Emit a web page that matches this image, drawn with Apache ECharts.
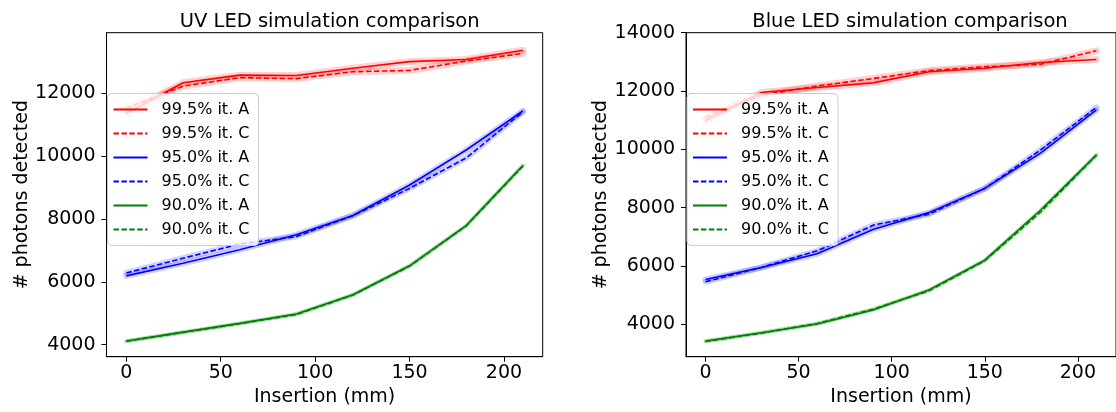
<!DOCTYPE html>
<html>
<head>
<meta charset="utf-8">
<script src="https://cdn.jsdelivr.net/npm/echarts@6/dist/echarts.min.js"></script>
<style>
html,body{margin:0;padding:0;background:#fff;}
#chart{width:1116px;height:412px;}
</style>
</head>
<body>
<div id="chart"></div>
<script>
// ---- data ----
const insertion = [0, 30, 60, 90, 120, 150, 180, 210];
const xTicks = [0, 50, 100, 150, 200];
const uvTicks = [4000, 6000, 8000, 10000, 12000];
const blueTicks = [4000, 6000, 8000, 10000, 12000, 14000];
const seriesNames = ['99.5% it. A', '99.5% it. C', '95.0% it. A', '95.0% it. C', '90.0% it. A', '90.0% it. C'];

// UV LED
const uvRedA   = [11350, 12330, 12570, 12560, 12790, 13000, 13070, 13360];
const uvRedC   = [11520, 12220, 12490, 12460, 12680, 12720, 13020, 13260];
const uvBlueA  = [6190, 6590, 7020, 7500, 8110, 9080, 10190, 11430];
const uvBlueC  = [6280, 6750, 7200, 7440, 8100, 8970, 9940, 11400];
const uvGreenA = [4120, 4400, 4680, 4980, 5590, 6510, 7790, 9700];
const uvGreenC = [4110, 4390, 4670, 4960, 5580, 6500, 7780, 9680];

// Blue LED
const blRedA   = [10980, 11950, 12120, 12280, 12660, 12780, 12980, 13080];
const blRedC   = [11100, 11860, 12170, 12430, 12700, 12830, 12920, 13380];
const blBlueA  = [5540, 5950, 6420, 7250, 7830, 8660, 9870, 11350];
const blBlueC  = [5460, 5950, 6520, 7400, 7780, 8660, 9980, 11440];
const blGreenA = [3430, 3710, 4010, 4490, 5180, 6200, 7920, 9810];
const blGreenC = [3410, 3700, 4030, 4520, 5150, 6180, 7850, 9800];

// ---- build ----
const colors = ['#ff0000', '#ff0000', '#0000ff', '#0000ff', '#008000', '#008000'];
const bandW = [7, 7, 6, 6, 4, 4];
const dashed = [false, true, false, true, false, true];
const FONT = 'DejaVu Sans';

function pairs(ys) { return insertion.map((x, i) => [x, ys[i]]); }

function buildSeries(sets, idx) {
  const out = [];
  sets.forEach((ys, k) => {
    out.push({
      type: 'line', name: 'band' + idx + '_' + k, xAxisIndex: idx, yAxisIndex: idx,
      data: pairs(ys), symbol: 'none', silent: true, z: 1,
      lineStyle: { color: colors[k], width: bandW[k], opacity: 0.18, join: 'round', cap: 'round' }
    });
  });
  sets.forEach((ys, k) => {
    out.push({
      type: 'line', name: seriesNames[k], xAxisIndex: idx, yAxisIndex: idx,
      data: pairs(ys), symbol: 'none', z: 2,
      itemStyle: { color: colors[k] },
      lineStyle: { color: colors[k], width: 1.6, type: dashed[k] ? [5.5, 2.4] : 'solid' }
    });
  });
  return out;
}

function plain(v) { return String(v); }

function xAxisCfg(idx) {
  return {
    type: 'value', gridIndex: idx, min: -10.5, max: 220.5,
    name: 'Insertion (mm)', nameLocation: 'middle', nameGap: 29,
    nameTextStyle: { fontFamily: FONT, fontSize: 19, color: '#000' },
    axisLine: { show: true, onZero: false, lineStyle: { color: '#000', width: 1 } },
    axisTick: { show: true, inside: false, length: 5, customValues: xTicks, lineStyle: { color: '#000' } },
    axisLabel: { customValues: xTicks, formatter: plain, margin: 7, fontFamily: FONT, fontSize: 19, color: '#000' },
    splitLine: { show: false }
  };
}
function yAxisCfg(idx, min, max, ticks) {
  return {
    type: 'value', gridIndex: idx, min: min, max: max,
    name: '# photons detected', nameLocation: 'middle', nameGap: 67, nameRotate: 90,
    nameTextStyle: { fontFamily: FONT, fontSize: 19, color: '#000' },
    axisLine: { show: true, onZero: false, lineStyle: { color: '#000', width: 1 } },
    axisTick: { show: true, inside: false, length: 5, customValues: ticks, lineStyle: { color: '#000' } },
    axisLabel: { customValues: ticks, formatter: plain, margin: 11, fontFamily: FONT, fontSize: 19, color: '#000' },
    splitLine: { show: false }
  };
}
function legendCfg(left) {
  return {
    orient: 'vertical', left: left, top: 93.5,
    data: seriesNames,
    itemWidth: 34, itemHeight: 14, itemGap: 8,
    padding: [8, 9, 8, 5],
    itemStyle: { opacity: 0, borderWidth: 0 },
    backgroundColor: 'rgba(255,255,255,0.8)', borderColor: '#cccccc', borderWidth: 1, borderRadius: 4,
    textStyle: { fontFamily: FONT, fontSize: 16, color: '#000', lineHeight: 14, padding: [0, 0, 0, 9] },
    selectedMode: false
  };
}

const option = {
  animation: false,
  backgroundColor: '#fff',
  title: [
    { text: 'UV LED simulation comparison', left: 324.7, top: 7, textAlign: 'center',
      textStyle: { fontFamily: FONT, fontSize: 19.5, fontWeight: 'normal', color: '#000' } },
    { text: 'Blue LED simulation comparison', left: 905, top: 7, textAlign: 'center',
      textStyle: { fontFamily: FONT, fontSize: 19.5, fontWeight: 'normal', color: '#000' } }
  ],
  grid: [
    { left: 106.5, top: 32.7, width: 436.2, height: 324, show: true, borderColor: '#000', borderWidth: 1, backgroundColor: 'transparent' },
    { left: 686, top: 32.7, width: 438, height: 324, show: true, borderColor: '#000', borderWidth: 1, backgroundColor: 'transparent' }
  ],
  xAxis: [xAxisCfg(0), xAxisCfg(1)],
  yAxis: [yAxisCfg(0, 3620, 13920, uvTicks), yAxisCfg(1, 2890, 14000, blueTicks)],
  legend: [legendCfg(107.5), legendCfg(687)],
  series: [].concat(
    buildSeries([uvRedA, uvRedC, uvBlueA, uvBlueC, uvGreenA, uvGreenC], 0),
    buildSeries([blRedA, blRedC, blBlueA, blBlueC, blGreenA, blGreenC], 1)
  )
};

const chart = echarts.init(document.getElementById('chart'), null, { renderer: 'canvas' });
chart.setOption(option);
</script>
</body>
</html>
